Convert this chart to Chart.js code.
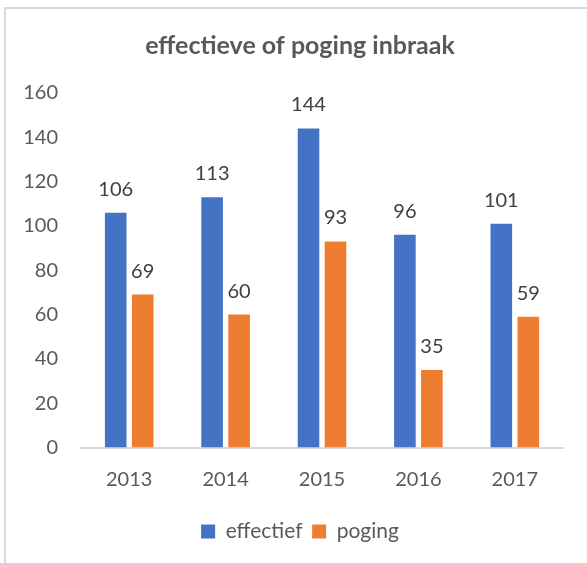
<!DOCTYPE html>
<html>
<head>
<meta charset="utf-8">
<script src="https://cdn.jsdelivr.net/npm/chart.js@4"></script>
<style>
  body { margin: 0; background: #fff; overflow: hidden; }
  #frame { position: absolute; left: 4px; top: 7px; width: 600px; height: 600px;
           border-left: 2px solid #d9d9d9; border-top: 2px solid #d9d9d9; }
  #chart { position: absolute; left: 0; top: 0; }
</style>
</head>
<body>
<div id="frame"></div>
<canvas id="chart" width="587" height="563"></canvas>
<script>
"use strict";
const years = ["2013", "2014", "2015", "2016", "2017"];
const effectief = [106, 113, 144, 96, 101];
const poging = [69, 60, 93, 35, 59];

const textGrey = "#595959";
const fontFamily = "Lato, 'Open Sans', sans-serif";

// values above each bar
const barValues = {
    id: "barValues",
    afterDatasetsDraw(chart) {
        const ctx = chart.ctx;
        ctx.save();
        ctx.font = `20px ${fontFamily}`;
        ctx.fillStyle = "#404040";
        ctx.textAlign = "center";
        ctx.textBaseline = "alphabetic";
        chart.data.datasets.forEach((ds, i) => {
            chart.getDatasetMeta(i).data.forEach((bar, j) => {
                ctx.fillText(String(ds.data[j]), bar.x, bar.y - 17);
            });
        });
        ctx.restore();
    },
};

// the original chart is wider than the crop, so title and legend sit left of the plot centre
const centreBlocks = {
    id: "centreBlocks",
    afterLayout(chart) {
        [chart.titleBlock, chart.legend].forEach((box) => {
            if (!box) return;
            box.left = 37;
            box.right = 563;
        });
    },
};

new Chart(document.getElementById("chart"), {
    type: "bar",
    data: {
        labels: years,
        datasets: [
            { label: "effectief", data: effectief, backgroundColor: "#4472C4" },
            { label: "poging", data: poging, backgroundColor: "#ED7D31" },
        ],
    },
    options: {
        responsive: false,
        animation: false,
        layout: { padding: { left: 0, right: 24, top: 0, bottom: 11 } },
        datasets: { bar: { categoryPercentage: 0.56, barPercentage: 0.8 } },
        scales: {
            x: {
                grid: { display: false, drawTicks: false },
                border: { display: true, color: "#d9d9d9", width: 2 },
                ticks: { color: textGrey, font: { family: fontFamily, size: 20 }, padding: 20 },
            },
            y: {
                min: 0,
                max: 160,
                grid: { display: false, drawTicks: false },
                border: { display: false },
                ticks: { stepSize: 20, color: textGrey, font: { family: fontFamily, size: 20 }, padding: 23 },
                afterFit(scale) { scale.width = 81; },
            },
        },
        plugins: {
            title: {
                display: true,
                text: "effectieve of poging inbraak",
                color: textGrey,
                font: { family: fontFamily, size: 25, weight: "bold" },
                padding: { top: 31, bottom: 32 },
            },
            legend: {
                position: "bottom",
                labels: {
                    color: textGrey,
                    font: { family: fontFamily, size: 21 },
                    boxWidth: 14,
                    boxHeight: 14,
                    padding: 9.5,
                },
            },
            tooltip: { enabled: false },
        },
    },
    plugins: [barValues, centreBlocks],
});
</script>
</body>
</html>
